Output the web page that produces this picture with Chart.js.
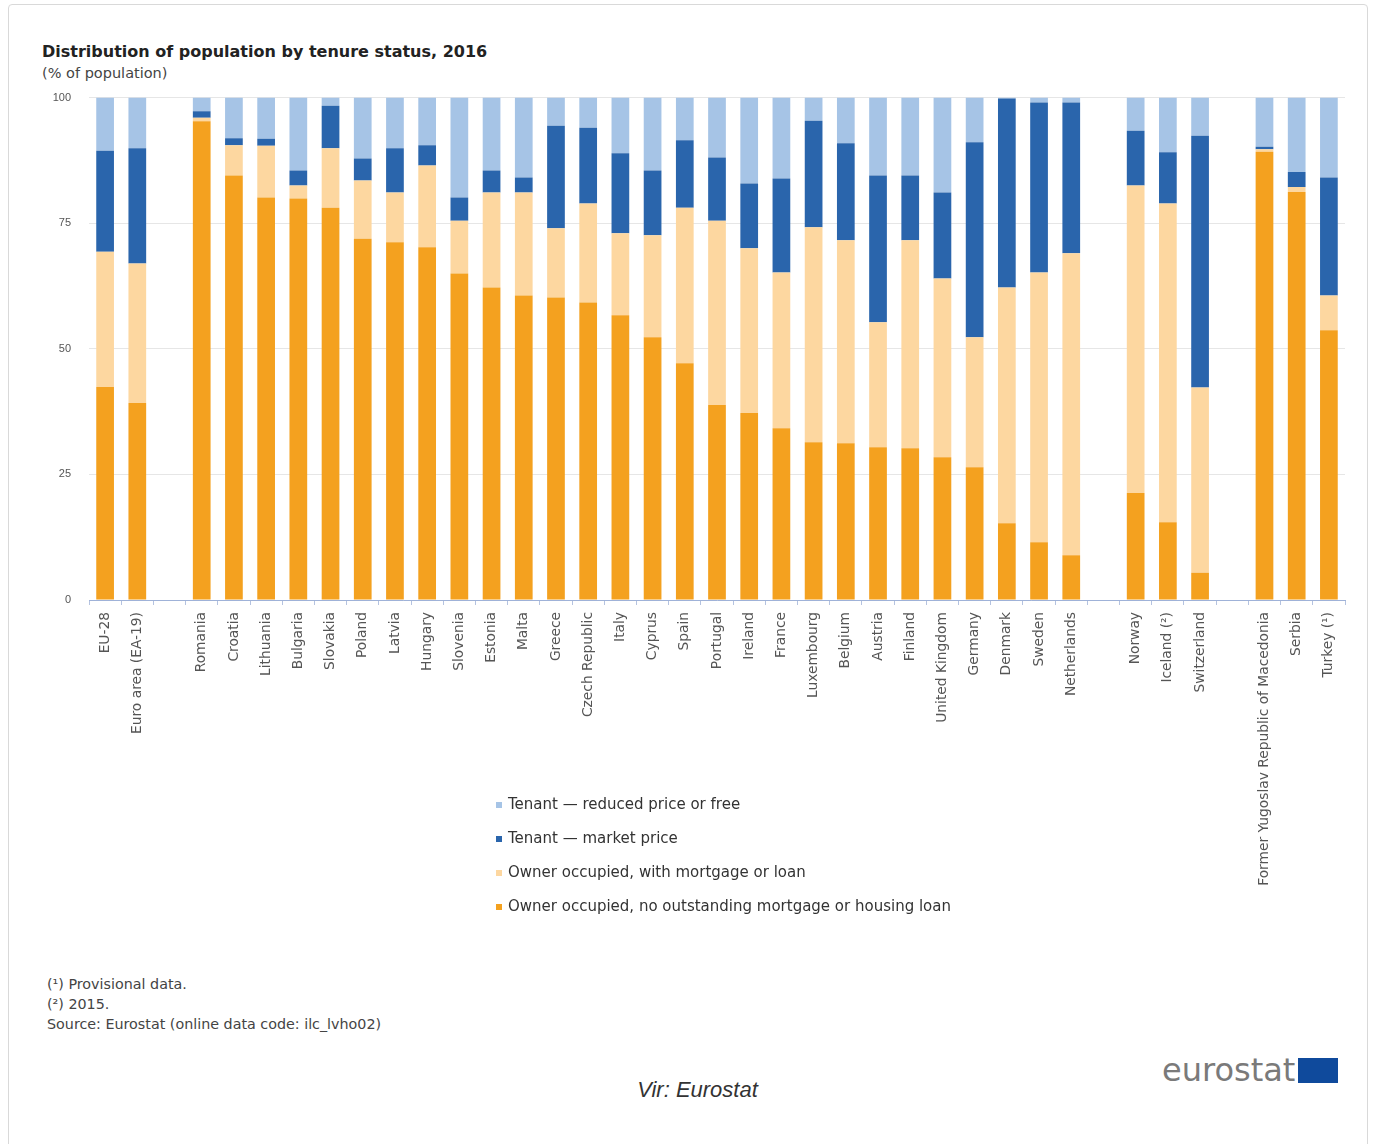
<!DOCTYPE html>
<html>
<head>
<meta charset="utf-8">
<script src="https://cdn.jsdelivr.net/npm/chart.js@4.4.1/dist/chart.umd.min.js"></script>
<style>
  body { margin: 0; background: #fff; font-family: "DejaVu Sans", sans-serif; }
  #frame { position: absolute; left: 8px; top: 4px; width: 1358px; height: 1150px; border: 1px solid #d9d9d9; border-radius: 4px; }
  #title { position: absolute; left: 42px; top: 42px; font-size: 16px; font-weight: bold; color: #222; }
  #subtitle { position: absolute; left: 42px; top: 65px; font-size: 14.5px; color: #444; }
  #wrap { position: absolute; left: 0; top: 73px; width: 1375px; height: 830px; }
  #legend { position: absolute; left: 496px; top: 795px; font-size: 15px; color: #333; }
  #legend div { height: 34px; line-height: 18px; }
  #legend span.box { display: inline-block; width: 6px; height: 6px; margin-right: 6px; vertical-align: middle; }
  #notes { position: absolute; left: 47px; top: 974px; font-size: 14.3px; line-height: 20px; color: #444; }
  #logo { position: absolute; left: 1162px; top: 1052px; font-size: 32px; line-height: 36px; color: #7a7a7a; }
  #logo span { display: inline-block; width: 40px; height: 25px; background: #0f4a9c; vertical-align: -2px; margin-left: 3px; }
  #src { position: absolute; left: 10px; width: 1375px; top: 1077px; text-align: center; font-family: "Liberation Sans", sans-serif; font-size: 22px; font-style: italic; color: #333; }
</style>
</head>
<body>
<div id="frame"></div>
<div id="title">Distribution of population by tenure status, 2016</div>
<div id="subtitle">(% of population)</div>
<div id="wrap"><canvas id="chart"></canvas></div>
<div id="legend"></div>
<div id="notes">(¹) Provisional data.<br>(²) 2015.<br>Source: Eurostat (online data code: ilc_lvho02)</div>
<div id="logo">eurostat<span></span></div>
<div id="src">Vir: Eurostat</div>
<script>
const categories = ['EU-28', 'Euro area (EA-19)', '',
    'Romania', 'Croatia', 'Lithuania', 'Bulgaria', 'Slovakia', 'Poland', 'Latvia', 'Hungary',
    'Slovenia', 'Estonia', 'Malta', 'Greece', 'Czech Republic', 'Italy', 'Cyprus', 'Spain',
    'Portugal', 'Ireland', 'France', 'Luxembourg', 'Belgium', 'Austria', 'Finland',
    'United Kingdom', 'Germany', 'Denmark', 'Sweden', 'Netherlands', '',
    'Norway', 'Iceland (²)', 'Switzerland', '',
    'Former Yugoslav Republic of Macedonia', 'Serbia', 'Turkey (¹)'];

const ownerNoMortgage = [42.4, 39.2, null,
    95.3, 84.5, 80.1, 79.9, 78.1, 71.9, 71.2, 70.2,
    65.0, 62.2, 60.6, 60.2, 59.2, 56.7, 52.3, 47.1,
    38.8, 37.2, 34.2, 31.4, 31.2, 30.4, 30.2,
    28.4, 26.4, 15.3, 11.5, 8.9, null,
    21.3, 15.5, 5.4, null,
    89.2, 81.2, 53.7];

const ownerMortgage = [26.9, 27.8, null,
    0.7, 6.0, 10.3, 2.6, 11.8, 11.6, 9.9, 16.3,
    10.5, 18.9, 20.5, 13.8, 19.7, 16.3, 20.3, 31.0,
    36.7, 32.8, 31.0, 42.8, 40.4, 24.9, 41.4,
    35.6, 25.9, 46.9, 53.7, 60.1, null,
    61.2, 63.4, 36.9, null,
    0.5, 1.0, 6.9];

const tenantMarket = [20.1, 22.9, null,
    1.3, 1.4, 1.4, 3.0, 8.5, 4.4, 8.8, 4.0,
    4.6, 4.4, 3.0, 20.4, 15.1, 15.9, 12.9, 13.4,
    12.6, 12.9, 18.7, 21.2, 19.3, 29.2, 12.9,
    17.1, 38.8, 37.6, 33.8, 30.0, null,
    10.9, 10.2, 50.1, null,
    0.5, 3.0, 23.5];

const tenantReduced = [10.6, 10.1, null,
    2.7, 8.1, 8.2, 14.5, 1.6, 12.1, 10.1, 9.5,
    19.9, 14.5, 15.9, 5.6, 6.0, 11.1, 14.5, 8.5,
    11.9, 17.1, 16.1, 4.6, 9.1, 15.5, 15.5,
    18.9, 8.9, 0.2, 1.0, 1.0, null,
    6.6, 10.9, 7.6, null,
    9.8, 14.8, 15.9];

const yTicks = [0, 25, 50, 75, 100];

const seriesNames = ['Owner occupied, no outstanding mortgage or housing loan',
    'Owner occupied, with mortgage or loan',
    'Tenant — market price',
    'Tenant — reduced price or free'];
const seriesColors = ['#F4A11F', '#FDD7A0', '#2A65AC', '#A6C4E6'];

const series = [ownerNoMortgage, ownerMortgage, tenantMarket, tenantReduced];

const chart = new Chart(document.getElementById('chart').getContext('2d'), {
    type: 'bar',
    data: {
        labels: categories,
        datasets: series.map((vals, i) => ({
            label: seriesNames[i],
            data: vals,
            backgroundColor: seriesColors[i],
            borderWidth: 0,
            categoryPercentage: 1,
            barPercentage: 0.55
        }))
    },
    options: {
        responsive: true,
        maintainAspectRatio: false,
        animation: false,
        layout: { padding: { left: 40, right: 30, top: 10, bottom: 0 } },
        plugins: { legend: { display: false }, tooltip: { enabled: false } },
        scales: {
            x: {
                stacked: true,
                grid: { display: true, drawOnChartArea: false, tickLength: 5, color: '#b5c3e0' },
                border: { color: '#9fb2d8' },
                ticks: {
                    autoSkip: false, maxRotation: 90, minRotation: 90, padding: 7,
                    font: { family: 'DejaVu Sans', size: 13.8 }, color: '#555'
                },
                afterFit: s => { s.height = 303; }
            },
            y: {
                stacked: true,
                min: 0, max: 100,
                afterBuildTicks: s => { s.ticks = yTicks.map(v => ({ value: v })); },
                grid: { color: '#e6e6e6', drawTicks: false },
                border: { display: false },
                ticks: { padding: 18, font: { family: 'Liberation Sans', size: 11 }, color: '#555' },
                afterFit: s => { s.width = 49; }
            }
        }
    }
});

// legend, top item first
const legend = document.getElementById('legend');
chart.data.datasets.slice().reverse().forEach(ds => {
    const row = document.createElement('div');
    row.innerHTML = '<span class="box" style="background:' + ds.backgroundColor + '"></span>' + ds.label;
    legend.appendChild(row);
});
</script>
</body>
</html>
